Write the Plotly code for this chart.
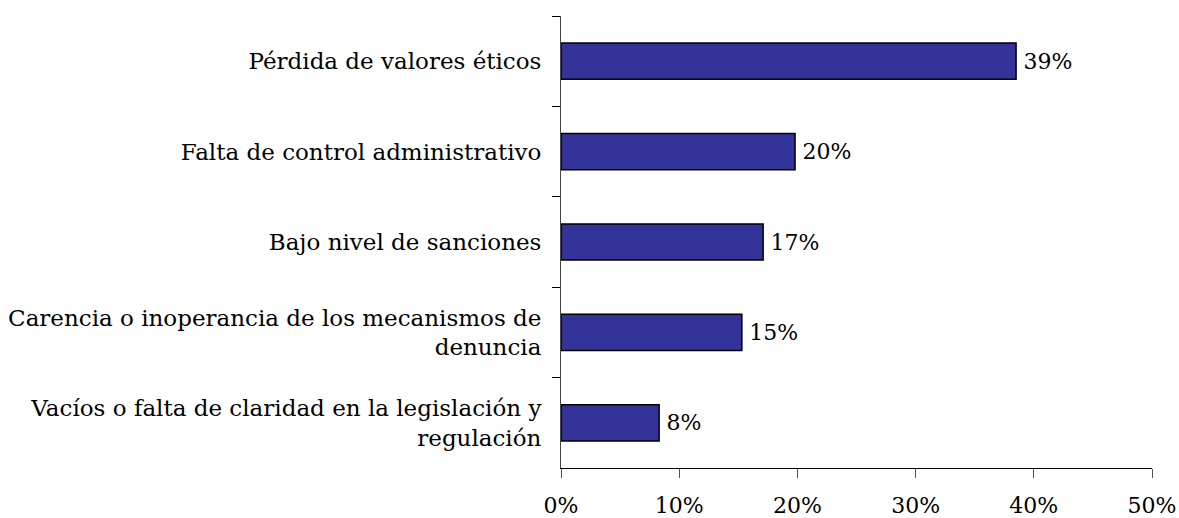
import plotly.graph_objects as go

categories = [
    "Pérdida de valores éticos",
    "Falta de control administrativo",
    "Bajo nivel de sanciones",
    "Carencia o inoperancia de los mecanismos de<br>denuncia",
    "Vacíos o falta de claridad en la legislación y<br>regulación",
]
values = [38.5, 19.8, 17.1, 15.3, 8.3]
value_labels = ["39%", "20%", "17%", "15%", "8%"]
x_tickvals = [0, 10, 20, 30, 40, 50]
x_ticktext = ["0%", "10%", "20%", "30%", "40%", "50%"]

FONT = "DejaVu Serif"

fig = go.Figure(
    go.Bar(
        x=values,
        y=categories,
        orientation="h",
        marker=dict(color="#333399", line=dict(color="#000000", width=1.5)),
        text=value_labels,
        texttemplate="\u2009%{text}",
        textposition="outside",
        textfont=dict(family=FONT, size=22, color="#000000"),
        cliponaxis=False,
    )
)

fig.update_layout(
    width=1179,
    height=518,
    margin=dict(l=561, r=27, t=16, b=50),
    paper_bgcolor="white",
    plot_bgcolor="white",
    bargap=0.6,
    showlegend=False,
    font=dict(family=FONT, size=22, color="#000000"),
)

fig.update_xaxes(
    range=[0, 50],
    tickvals=x_tickvals,
    ticktext=x_ticktext,
    showgrid=False,
    zeroline=False,
    showline=True,
    linecolor="#000000",
    linewidth=1,
    ticks="outside",
    ticklen=9,
    tickcolor="#555555",
    ticklabelstandoff=9,
    automargin=False,
    tickfont=dict(family=FONT, size=22, color="#000000"),
)

fig.update_yaxes(
    categoryorder="array",
    categoryarray=categories,
    autorange="reversed",
    showgrid=False,
    zeroline=False,
    showline=True,
    linecolor="#444444",
    linewidth=1,
    ticks="outside",
    ticklen=8,
    tickcolor="#000000",
    tickson="boundaries",
    ticklabelstandoff=14,
    automargin=False,
    tickfont=dict(family=FONT, size=23, color="#000000"),
)

fig.write_html(
    "out.html",
    config={"displayModeBar": False},
    post_script="document.body.style.margin='0';document.body.style.padding='0';",
)
